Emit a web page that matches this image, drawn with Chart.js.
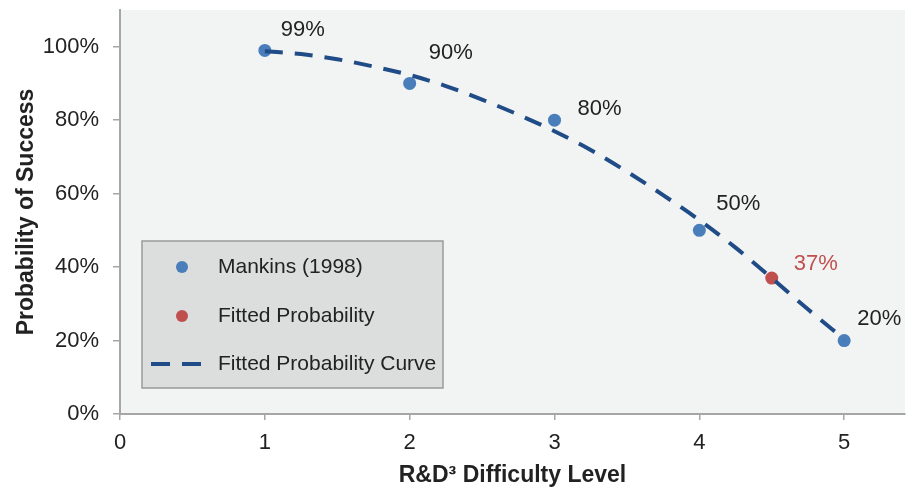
<!DOCTYPE html>
<html>
<head>
<meta charset="utf-8">
<script src="https://cdn.jsdelivr.net/npm/chart.js@4.4.1/dist/chart.umd.min.js"></script>
<style>
  body { margin: 0; background: #ffffff; }
  canvas { display: block; }
</style>
</head>
<body>
<canvas id="myChart" width="907" height="489"></canvas>
<script>
// Data
const levels = [1, 2, 3, 4, 5];
const mankinsProb = [0.99, 0.90, 0.80, 0.50, 0.20];
const fittedLevel = [4.5];
const fittedProb = [0.37];
const curveLevels = [1, 1.25, 1.5, 1.75, 2, 2.25, 2.5, 2.75, 3, 3.25, 3.5, 3.75, 4, 4.25, 4.5, 4.75, 5];
const curveProb = [0.988, 0.980, 0.966, 0.946, 0.923, 0.893, 0.856, 0.815, 0.770, 0.719, 0.660, 0.596, 0.528, 0.453, 0.370, 0.285, 0.204];
const legendLabels = ['Mankins (1998)', 'Fitted Probability', 'Fitted Probability Curve'];
const xTickValues = [0, 1, 2, 3, 4, 5];
const yTickValues = [0, 0.2, 0.4, 0.6, 0.8, 1.0];

// Styles
const FONT = '"Liberation Sans", Arial, sans-serif';
const BLUE = '#4a7ebb';
const RED = '#c0504d';
const NAVY = '#1f4b86';
const AXIS = '#a6a6a6';
const TEXT = '#222222';
const DASH = [18, 12];

// label offsets (px) from each point
const mankinsLabelOffsets = [[16, -20], [19, -31], [23, -11], [17, -26], [13, -22]];
const fittedLabelOffsets = [[22, -14]];

function toXY(xs, ys) {
  return xs.map((x, i) => ({ x: x, y: ys[i] }));
}

function pct(v) {
  return Math.round(v * 100) + '%';
}

// Light grey plot background
const plotBackground = {
  id: 'plotBackground',
  beforeDraw(chart) {
    const { ctx, chartArea } = chart;
    ctx.save();
    ctx.fillStyle = '#f2f3f3';
    ctx.fillRect(chartArea.left, chartArea.top, chartArea.right - chartArea.left, chartArea.bottom - chartArea.top);
    ctx.restore();
  }
};

// Percent labels next to points
const pointLabels = {
  id: 'pointLabels',
  afterDatasetsDraw(chart) {
    const ctx = chart.ctx;
    ctx.save();
    ctx.font = '22px ' + FONT;
    ctx.textAlign = 'left';
    ctx.textBaseline = 'middle';
    const sets = [[1, mankinsProb, mankinsLabelOffsets, TEXT], [2, fittedProb, fittedLabelOffsets, RED]];
    sets.forEach(([idx, values, offsets, color]) => {
      const meta = chart.getDatasetMeta(idx);
      ctx.fillStyle = color;
      meta.data.forEach((pt, i) => {
        ctx.fillText(pct(values[i]), pt.x + offsets[i][0], pt.y + offsets[i][1]);
      });
    });
    ctx.restore();
  }
};

// Boxed legend inside the plot
const boxLegend = {
  id: 'boxLegend',
  afterDraw(chart) {
    const { ctx, chartArea } = chart;
    const left = chartArea.left + 22;
    const top = chartArea.top + 231;
    const w = 301, h = 147;
    ctx.save();
    ctx.fillStyle = '#dcdddd';
    ctx.strokeStyle = '#9a9a9a';
    ctx.lineWidth = 1.5;
    ctx.fillRect(left, top, w, h);
    ctx.strokeRect(left, top, w, h);

    const rows = [top + 26, top + 75, top + 123];
    const mx = left + 40;
    ctx.fillStyle = BLUE;
    ctx.beginPath(); ctx.arc(mx, rows[0], 6, 0, Math.PI * 2); ctx.fill();
    ctx.fillStyle = RED;
    ctx.beginPath(); ctx.arc(mx, rows[1], 6, 0, Math.PI * 2); ctx.fill();
    ctx.strokeStyle = NAVY;
    ctx.lineWidth = 4;
    ctx.setLineDash([19, 12]);
    ctx.beginPath(); ctx.moveTo(left + 9, rows[2]); ctx.lineTo(left + 59, rows[2]); ctx.stroke();
    ctx.setLineDash([]);

    ctx.fillStyle = TEXT;
    ctx.font = '21px ' + FONT;
    ctx.textAlign = 'left';
    ctx.textBaseline = 'middle';
    legendLabels.forEach((t, i) => ctx.fillText(t, left + 76, rows[i]));
    ctx.restore();
  }
};

function initializeChart() {
  const ctx = document.getElementById('myChart').getContext('2d');
  return new Chart(ctx, {
    type: 'scatter',
    data: {
      datasets: [
        {
          label: legendLabels[2],
          data: toXY(curveLevels, curveProb),
          showLine: true,
          borderColor: NAVY,
          borderWidth: 4,
          borderDash: DASH,
          cubicInterpolationMode: 'monotone',
          pointRadius: 0,
          fill: false,
          order: 0
        },
        {
          label: legendLabels[0],
          data: toXY(levels, mankinsProb),
          pointRadius: 6.5,
          pointBackgroundColor: BLUE,
          pointBorderWidth: 0,
          order: 1
        },
        {
          label: legendLabels[1],
          data: toXY(fittedLevel, fittedProb),
          pointRadius: 6.5,
          pointBackgroundColor: RED,
          pointBorderWidth: 0,
          order: 1
        }
      ]
    },
    options: {
      responsive: false,
      animation: false,
      layout: { autoPadding: false, padding: { top: 10, right: 2, left: 0, bottom: 0 } },
      plugins: {
        legend: { display: false },
        tooltip: { enabled: false }
      },
      scales: {
        x: {
          type: 'linear',
          min: 0,
          max: 5.42,
          afterFit: s => { s.height = 75; s.paddingLeft = 0; s.paddingRight = 0; },
          afterBuildTicks: s => { s.ticks = xTickValues.map(v => ({ value: v })); },
          grid: { drawOnChartArea: false, drawTicks: true, tickLength: 6, color: AXIS, lineWidth: 1.5 },
          border: { display: true, color: AXIS, width: 2 },
          ticks: {
            padding: 10,
            color: TEXT,
            font: { family: FONT, size: 22 },
            callback: v => String(v)
          },
          title: {
            display: true,
            text: 'R&D³ Difficulty Level',
            color: TEXT,
            font: { family: FONT, size: 23, weight: 'bold' },
            padding: { top: 0, bottom: 0 }
          }
        },
        y: {
          type: 'linear',
          min: 0,
          max: 1.1,
          afterFit: s => { s.width = 120; s.paddingTop = 0; s.paddingBottom = 0; },
          afterBuildTicks: s => { s.ticks = yTickValues.map(v => ({ value: v })); },
          grid: { drawOnChartArea: false, drawTicks: true, tickLength: 7, color: AXIS, lineWidth: 1.5 },
          border: { display: true, color: AXIS, width: 2 },
          ticks: {
            padding: 14,
            color: TEXT,
            font: { family: FONT, size: 22 },
            callback: v => pct(v)
          },
          title: {
            display: true,
            text: 'Probability of Success',
            color: TEXT,
            font: { family: FONT, size: 23, weight: 'bold' },
            padding: { top: 13, bottom: 0 }
          }
        }
      }
    },
    plugins: [plotBackground, pointLabels, boxLegend]
  });
}

const myChart = initializeChart();
</script>
</body>
</html>
